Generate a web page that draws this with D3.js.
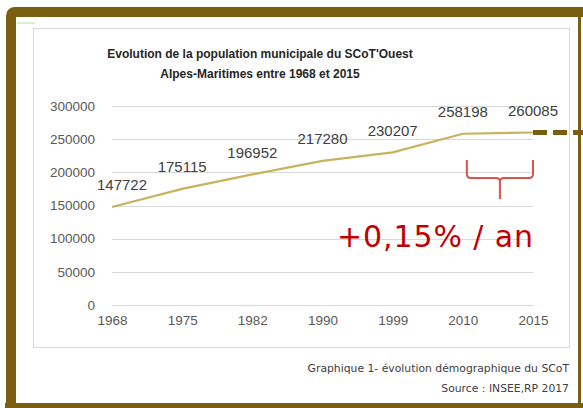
<!DOCTYPE html>
<html lang="fr">
<head>
<meta charset="utf-8">
<title>Evolution de la population municipale du SCoT'Ouest</title>
<script src="https://d3js.org/d3.v7.min.js"></script>
<style>
  body { margin: 0; background: #fff; }
  .axis text { font: 13.5px "Liberation Sans", sans-serif; fill: #595959; }
  .axis path, .axis line { display: none; }
</style>
</head>
<body>
<script>
const years = ['1968', '1975', '1982', '1990', '1999', '2010', '2015']
const population = [147722, 175115, 196952, 217280, 230207, 258198, 260085]
const yTicks = [0, 50000, 100000, 150000, 200000, 250000, 300000]
const titleLines = ["Evolution de la population municipale du SCoT'Ouest", 'Alpes-Maritimes entre 1968 et 2015']
const annotation = '+0,15% / an'
const captions = ['Graphique 1- évolution démographique du SCoT', 'Source : INSEE,RP 2017']

const w = 583, h = 408
const frameColor = '#7a5e12'

const svg = d3.select('body').append('svg')
  .attr('width', w)
  .attr('height', h)

// outer frame (thick left/top/bottom, thin right)
svg.append('path')
  .attr('d', 'M11,408 L11,16 Q11,12 15,12 L583,12')
  .attr('fill', 'none')
  .attr('stroke', frameColor)
  .attr('stroke-width', 10)
svg.append('rect').attr('x', 5).attr('y', 403).attr('width', 578).attr('height', 5).attr('fill', frameColor)
svg.append('line')
  .attr('x1', 579.5).attr('x2', 579.5).attr('y1', 12).attr('y2', 408)
  .attr('stroke', frameColor).attr('stroke-width', 3)
svg.append('line')
  .attr('x1', 17).attr('x2', 35).attr('y1', 23).attr('y2', 23)
  .attr('stroke', '#b5e08c').attr('stroke-width', 1)

// chart box
svg.append('rect')
  .attr('x', 33.5).attr('y', 28.5)
  .attr('width', 536).attr('height', 319)
  .attr('fill', '#fff')
  .attr('stroke', '#d9d9d9')

const xScale = d3.scalePoint()
  .domain(years)
  .range([112, 533])

const yScale = d3.scaleLinear()
  .domain([0, 300000])
  .range([305, 106])

// grid
svg.append('g').selectAll('line')
  .data(yTicks)
  .enter()
  .append('line')
  .attr('x1', xScale.range()[0])
  .attr('x2', xScale.range()[1])
  .attr('y1', d => Math.round(yScale(d)) + 0.5)
  .attr('y2', d => Math.round(yScale(d)) + 0.5)
  .attr('stroke', '#d9d9d9')
  .attr('stroke-width', 1.2)

const yAxis = d3.axisLeft(yScale).tickValues(yTicks).tickFormat(d => d).tickSize(0).tickPadding(0)
svg.append('g')
  .attr('class', 'axis')
  .attr('transform', 'translate(95,0)')
  .call(yAxis)

const xAxis = d3.axisBottom(xScale).tickSize(0).tickPadding(0)
svg.append('g')
  .attr('class', 'axis')
  .attr('transform', 'translate(0,315)')
  .call(xAxis)

// population line
const line = d3.line()
  .x((d, i) => xScale(years[i]))
  .y(d => yScale(d))

svg.append('path')
  .datum(population)
  .attr('d', line)
  .attr('fill', 'none')
  .attr('stroke', '#c9b25e')
  .attr('stroke-width', 2.2)

// dashed extension after the last point
const last = population[population.length - 1]
svg.append('line')
  .attr('x1', xScale(years[years.length - 1]))
  .attr('x2', w)
  .attr('y1', yScale(last))
  .attr('y2', yScale(last))
  .attr('stroke', frameColor)
  .attr('stroke-width', 5)
  .attr('stroke-dasharray', '14,6')

// data labels
svg.append('g').selectAll('text')
  .data(population)
  .enter()
  .append('text')
  .attr('x', (d, i) => Math.max(xScale(years[i]), 122))
  .attr('y', d => yScale(d) - 22)
  .attr('dy', '0.35em')
  .attr('text-anchor', 'middle')
  .style('font', '15px "Liberation Sans", sans-serif')
  .attr('fill', '#404040')
  .text(d => d)

// title
svg.append('g').selectAll('text')
  .data(titleLines)
  .enter()
  .append('text')
  .attr('x', 260)
  .attr('y', (d, i) => 58 + i * 20)
  .attr('text-anchor', 'middle')
  .style('font', 'bold 12px "Liberation Sans", sans-serif')
  .attr('fill', '#262626')
  .text(d => d)

// brace over 2010-2015
const bx0 = xScale('2010') + 4, bx1 = xScale('2015'), bm = (bx0 + bx1) / 2
svg.append('path')
  .attr('d', `M${bx0},160 L${bx0},174 Q${bx0},178 ${bx0 + 4},178 L${bm - 4},178 Q${bm},178 ${bm},182 L${bm},199
              M${bm},182 Q${bm},178 ${bm + 4},178 L${bx1 - 4},178 Q${bx1},178 ${bx1},174 L${bx1},160`)
  .attr('fill', 'none')
  .attr('stroke', '#d9534f')
  .attr('stroke-width', 2)

svg.append('text')
  .attr('x', 533)
  .attr('y', 247)
  .attr('text-anchor', 'end')
  .style('font', '30px "DejaVu Sans", sans-serif')
  .attr('fill', '#c00000')
  .attr('textLength', 196)
  .attr('lengthAdjust', 'spacing')
  .text(annotation)

// captions
svg.append('g').selectAll('text')
  .data(captions)
  .enter()
  .append('text')
  .attr('x', 569)
  .attr('y', (d, i) => 372 + i * 20)
  .attr('text-anchor', 'end')
  .style('font', '10.8px "DejaVu Sans", sans-serif')
  .attr('fill', '#404040')
  .text(d => d)
</script>
</body>
</html>
